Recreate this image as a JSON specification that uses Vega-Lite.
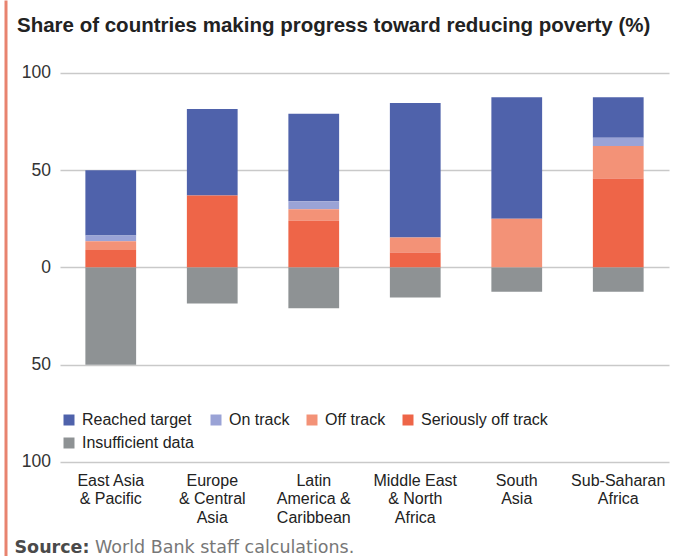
{
  "$schema": "https://vega.github.io/schema/vega-lite/v6.json",
  "width": 609,
  "height": 556,
  "autosize": {"type": "none"},
  "padding": {"left": 60, "top": 0, "right": 4, "bottom": 0},
  "background": "white",
  "title": {
    "text": "Share of countries making progress toward reducing poverty (%)",
    "anchor": "start",
    "frame": "group",
    "dx": -43,
    "offset": -36,
    "font": "Liberation Sans",
    "fontSize": 20.5,
    "fontWeight": "bold",
    "color": "#222222"
  },
  "datasets": {
    "statuses": [
      {"status": "Seriously off track", "severity_rank": 1},
      {"status": "Off track", "severity_rank": 2},
      {"status": "On track", "severity_rank": 3},
      {"status": "Reached target", "severity_rank": 4},
      {"status": "Insufficient data", "severity_rank": 5}
    ]
  },
  "data": {
    "values": [
      {"region": "East Asia & Pacific", "status": "Reached target", "share": 33.5},
      {"region": "East Asia & Pacific", "status": "On track", "share": 3},
      {"region": "East Asia & Pacific", "status": "Off track", "share": 4.5},
      {"region": "East Asia & Pacific", "status": "Seriously off track", "share": 9},
      {"region": "East Asia & Pacific", "status": "Insufficient data", "share": -50},
      {"region": "Europe & Central Asia", "status": "Reached target", "share": 44.5},
      {"region": "Europe & Central Asia", "status": "Seriously off track", "share": 37},
      {"region": "Europe & Central Asia", "status": "Insufficient data", "share": -18.5},
      {"region": "Latin America & Caribbean", "status": "Reached target", "share": 45},
      {"region": "Latin America & Caribbean", "status": "On track", "share": 4},
      {"region": "Latin America & Caribbean", "status": "Off track", "share": 6},
      {"region": "Latin America & Caribbean", "status": "Seriously off track", "share": 24},
      {"region": "Latin America & Caribbean", "status": "Insufficient data", "share": -21},
      {"region": "Middle East & North Africa", "status": "Reached target", "share": 69.2},
      {"region": "Middle East & North Africa", "status": "Off track", "share": 7.7},
      {"region": "Middle East & North Africa", "status": "Seriously off track", "share": 7.7},
      {"region": "Middle East & North Africa", "status": "Insufficient data", "share": -15.4},
      {"region": "South Asia", "status": "Reached target", "share": 62.5},
      {"region": "South Asia", "status": "Off track", "share": 25},
      {"region": "South Asia", "status": "Insufficient data", "share": -12.5},
      {"region": "Sub-Saharan Africa", "status": "Reached target", "share": 20.8},
      {"region": "Sub-Saharan Africa", "status": "On track", "share": 4.2},
      {"region": "Sub-Saharan Africa", "status": "Off track", "share": 16.7},
      {"region": "Sub-Saharan Africa", "status": "Seriously off track", "share": 45.8},
      {"region": "Sub-Saharan Africa", "status": "Insufficient data", "share": -12.5}
    ]
  },
  "transform": [
    {"lookup": "status", "from": {"data": {"name": "statuses"}, "key": "status", "fields": ["severity_rank"]}}
  ],
  "mark": {"type": "bar", "clip": false},
  "encoding": {
    "x": {
      "field": "region",
      "type": "nominal",
      "sort": ["East Asia & Pacific", "Europe & Central Asia", "Latin America & Caribbean", "Middle East & North Africa", "South Asia", "Sub-Saharan Africa"],
      "scale": {"paddingInner": 0.5, "paddingOuter": 0.25},
      "axis": {
        "title": "Source:",
        "titleX": -46,
        "titleY": 90,
        "titleAlign": "left",
        "titleBaseline": "alphabetic",
        "titleFont": "DejaVu Sans",
        "titleFontSize": 17.5,
        "titleFontWeight": "bold",
        "titleColor": "#4a4a4a",
        "offset": -94,
        "domain": false,
        "ticks": false,
        "grid": false,
        "labelAngle": 0,
        "labelFont": "Liberation Sans",
        "labelFontSize": 16,
        "labelColor": "#222222",
        "labelLineHeight": 18.5,
        "labelBaseline": "top",
        "labelPadding": 10,
        "labelExpr": "datum.value == 'East Asia & Pacific' ? ['East Asia', '& Pacific'] : datum.value == 'Europe & Central Asia' ? ['Europe', '& Central', 'Asia'] : datum.value == 'Latin America & Caribbean' ? ['Latin', 'America &', 'Caribbean'] : datum.value == 'Middle East & North Africa' ? ['Middle East', '& North', 'Africa'] : datum.value == 'South Asia' ? ['South', 'Asia'] : ['Sub-Saharan', 'Africa']"
      }
    },
    "y": {
      "field": "share",
      "type": "quantitative",
      "stack": "zero",
      "scale": {"domain": [-148.33, 137.53], "nice": false, "zero": false},
      "axis": {
        "values": [-100, -50, 0, 50, 100],
        "labelExpr": "format(abs(datum.value), 'd')",
        "title": "World Bank staff calculations.",
        "titleAngle": 0,
        "titleX": 89,
        "titleY": 552,
        "titleAlign": "left",
        "titleBaseline": "alphabetic",
        "titleFont": "DejaVu Sans",
        "titleFontSize": 17.5,
        "titleFontWeight": "normal",
        "titleColor": "#777777",
        "offset": 54.5,
        "domain": true,
        "domainColor": "#E8836F",
        "domainWidth": 3,
        "ticks": false,
        "labelPadding": -45,
        "labelFont": "Liberation Sans",
        "labelFontSize": 17.5,
        "labelColor": "#333333",
        "labelBaseline": "middle",
        "grid": true,
        "gridColor": "#c9c9c9",
        "gridWidth": 1.5
      }
    },
    "order": {"field": "severity_rank", "type": "quantitative", "sort": "ascending"},
    "color": {
      "field": "status",
      "type": "nominal",
      "scale": {
        "domain": ["Reached target", "On track", "Off track", "Seriously off track", "Insufficient data"],
        "range": ["#4F62AB", "#9AA3D6", "#F39277", "#EE6548", "#8E9294"]
      },
      "legend": {
        "orient": "none",
        "legendX": 1,
        "legendY": 412,
        "direction": "horizontal",
        "columns": 4,
        "gridAlign": "none",
        "title": null,
        "symbolType": "square",
        "symbolSize": 121,
        "symbolStrokeWidth": 0,
        "symbolOpacity": 1,
        "labelFont": "Liberation Sans",
        "labelFontSize": 16,
        "labelColor": "#222222",
        "labelOffset": 5,
        "columnPadding": 14,
        "rowPadding": 7
      }
    }
  },
  "config": {"view": {"stroke": null}}
}
